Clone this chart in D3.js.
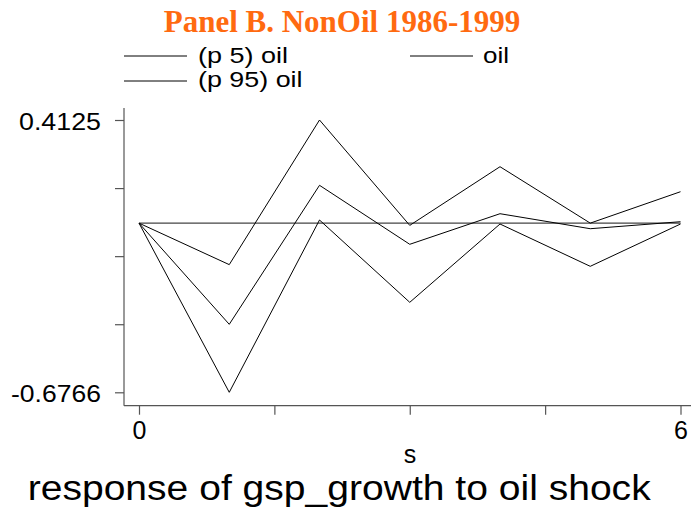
<!DOCTYPE html>
<html>
<head>
<meta charset="utf-8">
<script src="https://cdn.jsdelivr.net/npm/d3@7"></script>
<style>
  body { margin: 0; background: #fff; }
  svg { display: block; }
  .axis path, .axis line { stroke: #555; stroke-width: 1.2; }
  .axis text { font-family: "Liberation Sans", Arial, sans-serif; fill: #000; }
  .serie { fill: none; stroke: #000; stroke-width: 1; }
</style>
</head>
<body>
<svg id="chart" width="691" height="512"></svg>
<script>
//

const steps = [0, 1, 2, 3, 4, 5, 6]
const p95 = [0, -0.166, 0.4125, -0.009, 0.2257, 0.0, 0.1257]
const oil = [0, -0.4047, 0.1513, -0.0847, 0.0377, -0.0223, 0.0057]
const p5 = [0, -0.6766, 0.0125, -0.3167, -0.0035, -0.1727, -0.0035]
const zeroLine = [0, 0, 0, 0, 0, 0, 0]
const yTicks = [0.4125, 0.140225, -0.13205, -0.404325, -0.6766]
const yTickLabels = ['0.4125', '', '', '', '-0.6766']
const xTicks = [0, 1.5, 3, 4.5, 6]
const xTickLabels = ['0', '', '', '', '6']
const legendItems = ['(p 5) oil', 'oil', '(p 95) oil']

//

const svg = d3.select('#chart')
const sans = '"Liberation Sans", Arial, sans-serif'

const x = d3.scaleLinear().domain([0, 6]).range([139, 680.5])
const y = d3.scaleLinear().domain([-0.6766, 0.4125]).range([392.3, 120])

// title
svg.append('text')
  .attr('x', 342)
  .attr('y', 31.5)
  .attr('text-anchor', 'middle')
  .style('font-family', '"Liberation Serif", "Times New Roman", serif')
  .style('font-weight', 'bold')
  .style('font-size', '31px')
  .attr('fill', '#ff6a10')
  .text('Panel B. NonOil 1986-1999')

// legend
const legendPos = [
  {lx: 124, ly: 56, tx: 198, ty: 63, w: 90},
  {lx: 410, ly: 56, tx: 483, ty: 63, w: 26},
  {lx: 124, ly: 81, tx: 198, ty: 87, w: 104.5}
]
const legend = svg.append('g').selectAll('g')
  .data(legendItems)
  .join('g')

legend.append('line')
  .attr('x1', (d, i) => legendPos[i].lx)
  .attr('x2', (d, i) => legendPos[i].lx + 63)
  .attr('y1', (d, i) => legendPos[i].ly)
  .attr('y2', (d, i) => legendPos[i].ly)
  .attr('stroke', '#000')
  .attr('stroke-width', 1)

legend.append('text')
  .attr('x', (d, i) => legendPos[i].tx)
  .attr('y', (d, i) => legendPos[i].ty)
  .attr('textLength', (d, i) => legendPos[i].w)
  .attr('lengthAdjust', 'spacingAndGlyphs')
  .style('font-family', sans)
  .style('font-size', '22px')
  .text((d) => d)

// axes
const yAxis = d3.axisLeft(y)
  .tickValues(yTicks)
  .tickFormat((d, i) => yTickLabels[i])
  .tickSizeInner(9)
  .tickSizeOuter(0)
  .tickPadding(14)

const gy = svg.append('g')
  .attr('class', 'axis')
  .attr('transform', 'translate(124,0)')
  .call(yAxis)
gy.select('.domain').attr('d', 'M0,108V405.7')
gy.selectAll('text')
  .style('font-size', '23px')
  .attr('dy', '0.4em')
  .attr('textLength', (d, i) => i === 0 ? 82 : (i === 4 ? 90 : null))
  .attr('lengthAdjust', 'spacingAndGlyphs')

const xAxis = d3.axisBottom(x)
  .tickValues(xTicks)
  .tickFormat((d, i) => xTickLabels[i])
  .tickSizeInner(9)
  .tickSizeOuter(0)
  .tickPadding(7)

const gx = svg.append('g')
  .attr('class', 'axis')
  .attr('transform', 'translate(0,405.7)')
  .call(xAxis)
gx.select('.domain').attr('d', 'M124,0H691')
gx.selectAll('text')
  .style('font-size', '25px')
  .attr('dy', '0.71em')

// axis titles
svg.append('text')
  .attr('x', 410)
  .attr('y', 463.3)
  .attr('text-anchor', 'middle')
  .style('font-family', sans)
  .style('font-size', '25px')
  .text('s')

svg.append('text')
  .attr('x', 27.7)
  .attr('y', 500)
  .attr('textLength', 623)
  .attr('lengthAdjust', 'spacingAndGlyphs')
  .style('font-family', sans)
  .style('font-size', '35px')
  .text('response of gsp_growth to oil shock')

// lines
const line = d3.line()
  .x((d, i) => x(steps[i]))
  .y((d) => y(d))

svg.append('path')
  .attr('class', 'serie')
  .attr('stroke', '#444')
  .style('stroke', '#444')
  .style('stroke-width', 1.2)
  .attr('d', line(zeroLine))

const series = [p5, oil, p95]
svg.append('g').selectAll('path')
  .data(series)
  .join('path')
  .attr('class', 'serie')
  .attr('d', (d) => line(d))
</script>
</body>
</html>
